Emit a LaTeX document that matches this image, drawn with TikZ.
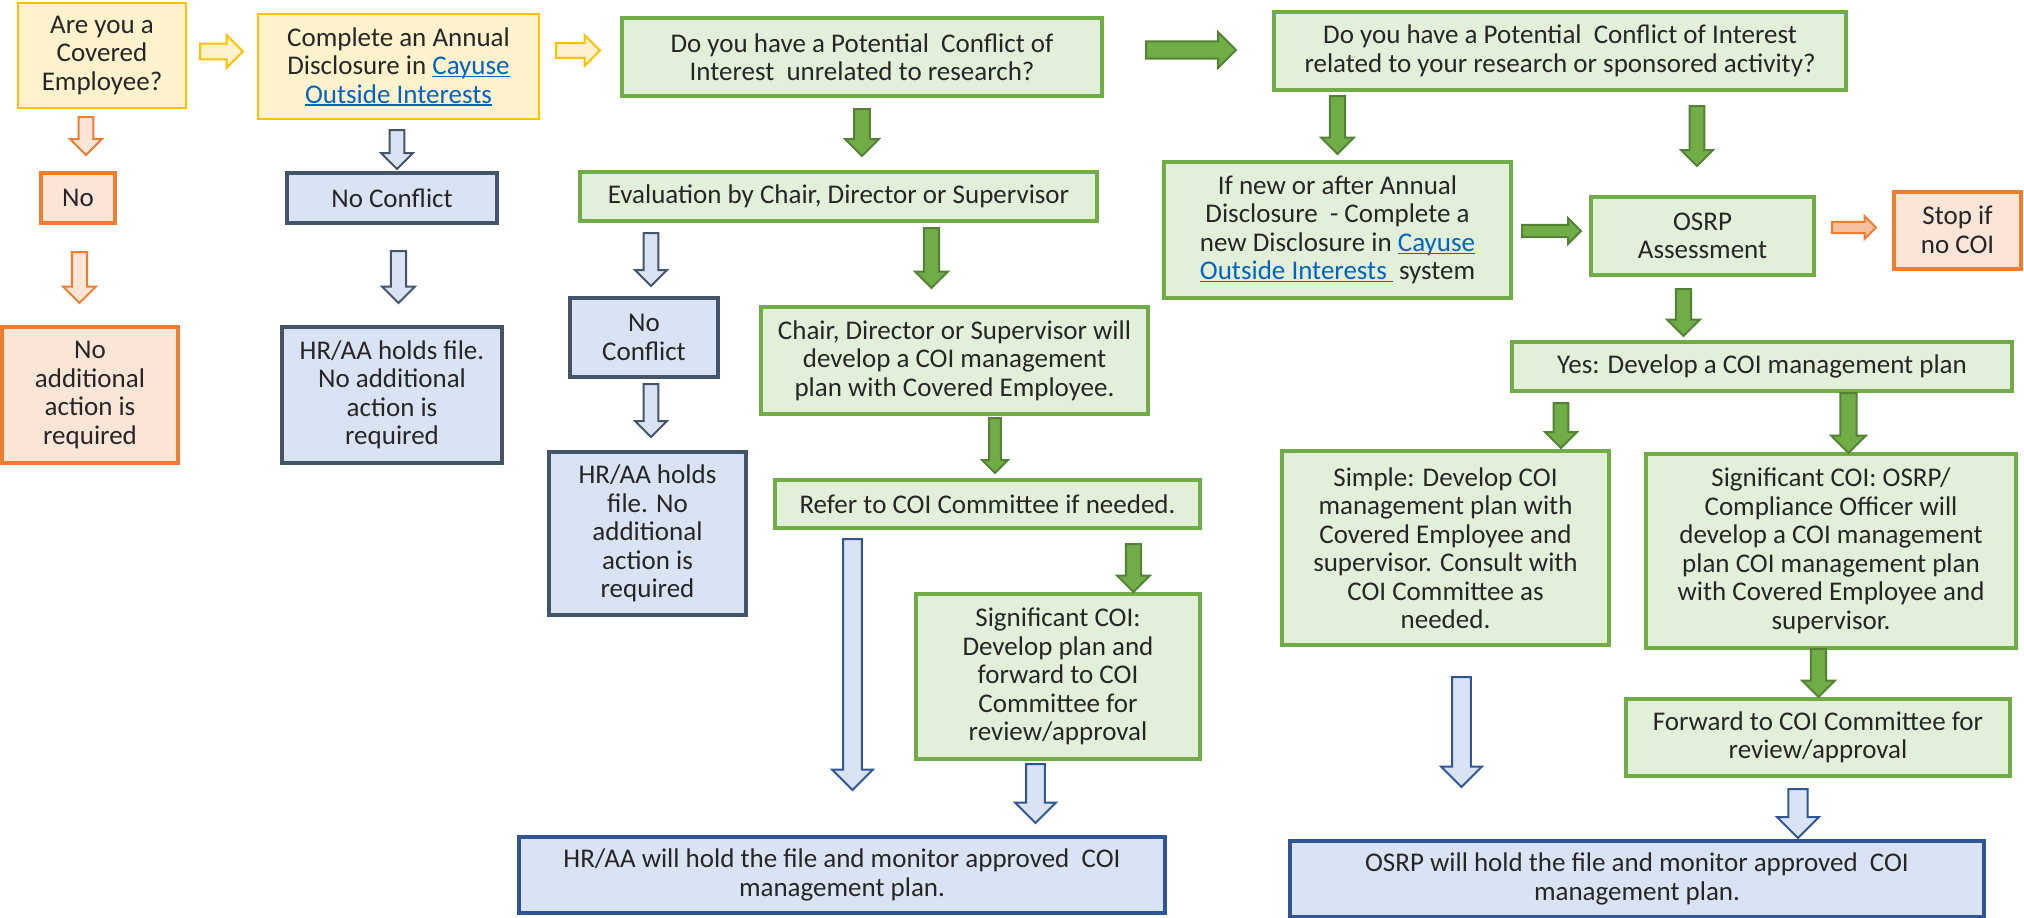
\documentclass[tikz,border=0pt]{standalone}
\usepackage{fontspec}
\setmainfont{Carlito}
\definecolor{yfill}{HTML}{FFF2CC}
\definecolor{yline}{HTML}{FFC000}
\definecolor{ofill}{HTML}{FBE5D6}
\definecolor{oline}{HTML}{ED7D31}
\definecolor{oarrfill}{HTML}{F6C0A0}
\definecolor{bfill}{HTML}{DAE3F3}
\definecolor{sline}{HTML}{44546A}
\definecolor{bline}{HTML}{2F5597}
\definecolor{gfill}{HTML}{E2F0D9}
\definecolor{gline}{HTML}{70AD47}
\definecolor{garrline}{HTML}{548235}
\definecolor{linkblue}{HTML}{0563C1}
\newcommand\lnk[1]{\textcolor{linkblue}{\setbox0\hbox{#1}\rlap{\rule[-2.5pt]{\wd0}{1.3pt}}\box0}}
% down block arrow: style, cx, ytop, ybot, head width
\newcommand\darr[5]{\draw[#1] ({#2-0.23*#5},#3) -- ({#2+0.23*#5},#3) -- ({#2+0.23*#5},{#4-0.5*#5}) -- ({#2+0.5*#5},{#4-0.5*#5}) -- (#2,#4) -- ({#2-0.5*#5},{#4-0.5*#5}) -- ({#2-0.23*#5},{#4-0.5*#5}) -- cycle;}
% right block arrow: style, xleft, xright, cy, head height
\newcommand\rarr[5]{\draw[#1] (#2,{#4-0.24*#5}) -- ({#3-0.5*#5},{#4-0.24*#5}) -- ({#3-0.5*#5},{#4-0.5*#5}) -- (#3,#4) -- ({#3-0.5*#5},{#4+0.5*#5}) -- ({#3-0.5*#5},{#4+0.24*#5}) -- (#2,{#4+0.24*#5}) -- cycle;}
\tikzset{
  box/.style={draw, align=center, inner sep=0pt, font=\fontsize{27}{28.5}\selectfont, text=black!85},
  yel/.style={box, fill=yfill, draw=yline, line width=2.5pt},
  org/.style={box, fill=ofill, draw=oline, line width=4pt},
  slate/.style={box, fill=bfill, draw=sline, line width=4pt},
  grn/.style={box, fill=gfill, draw=gline, line width=3.5pt},
  blu/.style={box, fill=bfill, draw=bline, line width=3.5pt},
  yarr/.style={fill=yfill, draw=yline, line width=2pt, line join=miter},
  oarr/.style={fill=ofill, draw=oline, line width=2pt},
  oarr2/.style={fill=oarrfill, draw=oline, line width=2pt},
  sarr/.style={fill=bfill, draw=sline, line width=2pt},
  barr/.style={fill=bfill, draw=bline, line width=2pt},
  garr/.style={fill=gline, draw=garrline, line width=2pt},
}
\begin{document}
\begin{tikzpicture}[x=1pt,y=-1pt]
\useasboundingbox (0,0) rectangle (2024,918);
% column 1
\node[yel, minimum width=168, minimum height=105] (are) at (102,55.5) {Are you a\\Covered\\Employee?};
\node[org, minimum width=74, minimum height=50] (no1) at (78,198) {No};
\node[org, minimum width=176, minimum height=136] (noadd) at (90,395) {No\\additional\\action is\\required};
% column 2
\node[yel, minimum width=281, minimum height=105] (annual) at (398.5,66.5) {Complete an Annual\\Disclosure in \lnk{Cayuse}\\\lnk{Outside Interests}};
\node[slate, minimum width=210, minimum height=50] (nc1) at (392,198) {No Conflict};
\node[slate, minimum width=220, minimum height=136] (hr1) at (392,395) {HR/AA holds file.\\No additional\\action is\\required};
% column 3
\node[grn, minimum width=480, minimum height=78] (q1) at (862,57) {Do you have a Potential\ \ Conflict of\\Interest\ \ unrelated to research?};
\node[grn, minimum width=517, minimum height=49] (eval) at (838.5,196.5) {Evaluation by Chair, Director or Supervisor};
\node[slate, minimum width=148, minimum height=79] (nc2) at (644,337.5) {No\\Conflict};
\node[slate, minimum width=197, minimum height=163] (hr2) at (647.5,533.5) {HR/AA holds\\file. No\\additional\\action is\\required};
\node[grn, minimum width=387, minimum height=107] (chair) at (954.5,360.5) {Chair, Director or Supervisor will\\develop a COI management\\plan with Covered Employee.};
\node[grn, minimum width=425, minimum height=48] (refer) at (987.5,504) {Refer to COI Committee if needed.};
\node[grn, minimum width=284, minimum height=165] (sig1) at (1058,676.5) {Significant COI:\\Develop plan and\\forward to COI\\Committee for\\review/approval};
\node[blu, minimum width=646, minimum height=76] (hrhold) at (842,875) {HR/AA will hold the file and monitor approved\ \ COI\\management plan.};
% column 4
\node[grn, minimum width=572, minimum height=78] (q2) at (1560,51) {Do you have a Potential\ \ Conflict of Interest\\related to your research or sponsored activity?};
\node[grn, minimum width=347, minimum height=136] (ifnew) at (1337.5,230) {If new or after Annual\\Disclosure\ \ - Complete a\\new Disclosure in \lnk{Cayuse}\\\lnk{Outside Interests\ } system};
\node[grn, minimum width=223, minimum height=78] (osrp) at (1702.5,236) {OSRP\\Assessment};
\node[org, minimum width=127, minimum height=77] (stop) at (1957.5,230) {Stop if\\no COI};
\node[grn, minimum width=500, minimum height=49] (yes) at (1762,366.5) {Yes: Develop a COI management plan};
\node[grn, minimum width=327, minimum height=194] (simple) at (1445.5,548) {Simple: Develop COI\\management plan with\\Covered Employee and\\supervisor. Consult with\\COI Committee as\\needed.};
\node[grn, minimum width=370, minimum height=194] (sig2) at (1831,551) {Significant COI: OSRP/\\Compliance Officer will\\develop a COI management\\plan COI management plan\\with Covered Employee and\\supervisor.};
\node[grn, minimum width=384, minimum height=77] (forward) at (1818,737.5) {Forward to COI Committee for\\review/approval};
\node[blu, minimum width=694, minimum height=76] (osrphold) at (1637,879) {OSRP will hold the file and monitor approved\ \ COI\\management plan.};
% right arrows
\rarr{yarr}{200}{243}{51.5}{33}
\rarr{yarr}{556}{600}{50.5}{31}
\rarr{garr}{1146}{1236}{50}{36}
\rarr{garr}{1522}{1581}{231}{26}
\rarr{oarr2}{1832}{1876}{227.5}{23}
% down arrows
\darr{oarr}{86}{117}{155}{32}
\darr{oarr}{79.5}{252}{303}{33}
\darr{sarr}{397}{130}{169}{32}
\darr{sarr}{398.5}{251}{303}{33}
\darr{garr}{862}{109}{156}{34}
\darr{sarr}{651}{233}{286}{32}
\darr{garr}{931.5}{228}{288}{33}
\darr{sarr}{651}{384}{437}{32}
\darr{garr}{995}{418}{473}{26}
\darr{garr}{1133.5}{544}{592}{33}
\darr{barr}{852.5}{539}{790}{41}
\darr{barr}{1035.5}{764}{823}{41}
\darr{garr}{1337.5}{96}{154}{33}
\darr{garr}{1697}{106}{166}{32}
\darr{garr}{1683.5}{289}{336}{33}
\darr{garr}{1561}{403}{448}{32}
\darr{garr}{1848.5}{393}{453}{35}
\darr{barr}{1461.5}{677}{787}{41}
\darr{garr}{1818.5}{649}{697}{33}
\darr{barr}{1798}{789}{838}{42}
\end{tikzpicture}
\end{document}
